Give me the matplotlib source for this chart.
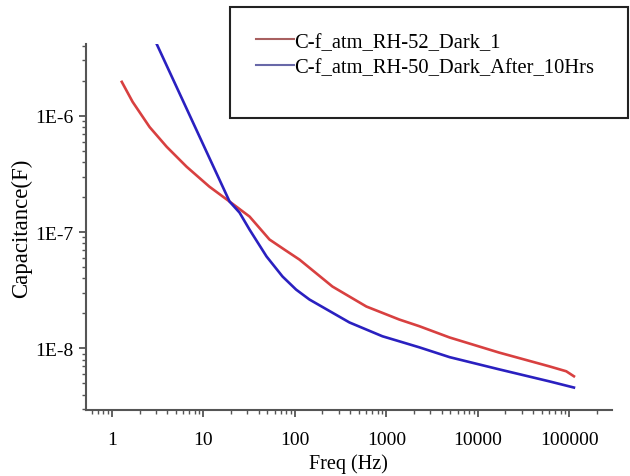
import numpy as np
import matplotlib.pyplot as plt
from matplotlib.patches import Rectangle
from matplotlib.ticker import FixedLocator, LogLocator, NullFormatter

plt.rcParams['font.family'] = ['Liberation Serif', 'DejaVu Serif']

# C-f_atm_RH-52_Dark_1
freq_1 = [1.28, 1.68, 2.58, 3.96, 6.54, 11.6, 19.3, 31.9, 52.7, 76.5, 112, 257, 603,
          1380, 2290, 4900, 17000, 60300, 92300, 112000]
cap_1 = [1.96e-6, 1.32e-6, 8.0e-7, 5.42e-7, 3.65e-7, 2.46e-7, 1.83e-7, 1.36e-7, 8.63e-8,
         7.08e-8, 5.8e-8, 3.4e-8, 2.29e-8, 1.77e-8, 1.55e-8, 1.24e-8, 9.2e-9, 7.0e-9,
         6.35e-9, 5.75e-9]

# C-f_atm_RH-50_Dark_After_10Hrs
freq_2 = [3.08, 5.91, 10.8, 19.3, 24.8, 31.9, 48.9, 73.1, 103, 144, 394, 904, 1380,
          2290, 4900, 17000, 60300, 112000]
cap_2 = [4.15e-6, 1.37e-6, 4.91e-7, 1.83e-7, 1.47e-7, 1.05e-7, 6.17e-8, 4.15e-8, 3.2e-8,
         2.63e-8, 1.67e-8, 1.27e-8, 1.15e-8, 1.02e-8, 8.4e-9, 6.6e-9, 5.2e-9, 4.6e-9]

labels = ['C-f_atm_RH-52_Dark_1', 'C-f_atm_RH-50_Dark_After_10Hrs']
x_ticks = [1, 10, 100, 1000, 10000, 100000]
x_labels = ['1', '10', '100', '1000', '10000', '100000']
y_ticks = [1e-8, 1e-7, 1e-6]
y_labels = ['1E-8', '1E-7', '1E-6']

fig = plt.figure(figsize=(6.3, 4.77), dpi=100)
ax = fig.add_axes([0.1365, 0.1384, 0.8345, 0.7673])

ax.loglog(freq_1, cap_1, color='#d84040', lw=1.9, solid_joinstyle='round')
ax.loglog(freq_2, cap_2, color='#2a20c0', lw=1.9, solid_joinstyle='round')

ax.set_xlim(0.52, 2.9e5)
ax.set_ylim(2.95e-9, 4.15e-6)

for s in ['top', 'right']:
    ax.spines[s].set_visible(False)
for s in ['left', 'bottom']:
    ax.spines[s].set_color('#555555')
    ax.spines[s].set_linewidth(1.5)

ax.xaxis.set_major_locator(FixedLocator(x_ticks))
ax.set_xticklabels(x_labels)
ax.yaxis.set_major_locator(FixedLocator(y_ticks))
ax.set_yticklabels(y_labels)
ax.xaxis.set_minor_locator(LogLocator(base=10, subs=np.arange(2, 10), numticks=20))
ax.yaxis.set_minor_locator(LogLocator(base=10, subs=np.arange(2, 10), numticks=20))
ax.xaxis.set_minor_formatter(NullFormatter())
ax.yaxis.set_minor_formatter(NullFormatter())
ax.tick_params(which='major', length=5, width=1.3, color='#555555', labelsize=14)
ax.tick_params(axis='x', which='major', pad=10)
ax.tick_params(axis='y', which='major', pad=4)
ax.tick_params(which='minor', length=3, width=1.0, color='#555555')

ax.set_xlabel('Freq (Hz)', fontsize=14.5, labelpad=4)
ax.set_ylabel('Capacitance(F)', fontsize=16.5, labelpad=2)

# legend box
fig.patches.append(Rectangle((230 / 630, 1 - 119 / 477), 398 / 630, 111 / 477,
                             transform=fig.transFigure, fill=False,
                             edgecolor='#222222', lw=1.5))
h1, = ax.plot([], [], color='#a86060', lw=1.5)
h2, = ax.plot([], [], color='#6868a8', lw=1.5)
fig.legend([h1, h2], labels, loc='upper left', bbox_to_anchor=(246 / 630, 1 - 23 / 477),
           frameon=False, fontsize=14.8, handlelength=1.85, handletextpad=0.0,
           labelspacing=0.3, borderpad=0)

fig.savefig('out.png', dpi=100)
